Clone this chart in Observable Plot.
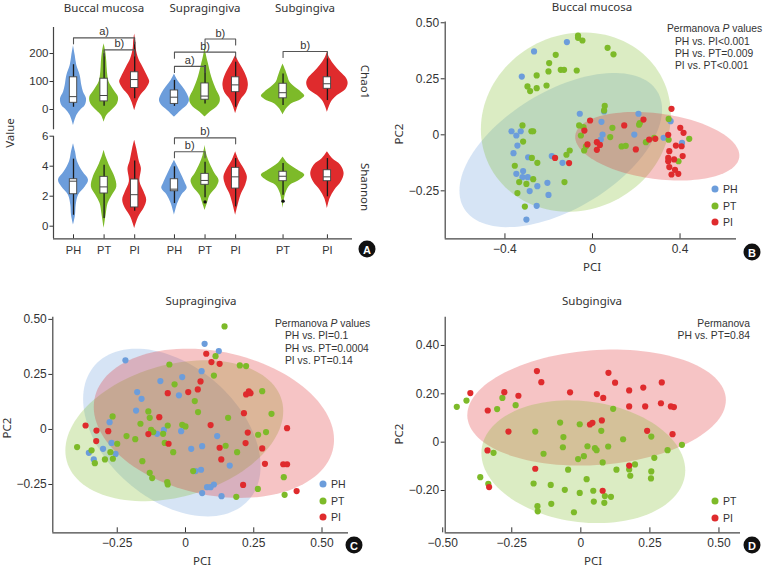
<!DOCTYPE html>
<html><head><meta charset="utf-8">
<script src="https://cdn.jsdelivr.net/npm/d3@7"></script>
<script src="https://cdn.jsdelivr.net/npm/@observablehq/plot@0.6"></script>
<style>
body{margin:0;background:#fff;}
#root{position:relative;width:764px;height:569px;overflow:hidden;font-family:"Liberation Sans",Arial,sans-serif;color:#333;background:#fff;}
.panel{position:absolute;}
.lbl{position:absolute;white-space:nowrap;line-height:1;color:#333;}
.nt{font-family:"Noto Sans",sans-serif;}
.badge{position:absolute;width:17px;height:17px;border-radius:50%;background:#111;color:#fff;font:bold 11px "Liberation Sans",Arial,sans-serif;display:flex;align-items:center;justify-content:center;transform:translate(-50%,-50%);}
.ldot{position:absolute;width:7px;height:7px;border-radius:50%;transform:translate(-50%,-50%);}
.violin g[aria-label="area"]{filter:blur(0.5px);}
</style></head>
<body><div id="root"></div>
<script>
// ---------------- data ----------------
const groups = ["PH", "PT", "PI"];
const groupColors = ["#6c9ddb", "#7dba29", "#df2b2d"];
const sites = ["Buccal mucosa", "Supragingiva", "Subgingiva"];

// Panel A: violin profiles [value, relative density]
const chao1Violins = [
  {site: "Buccal mucosa", group: "PH", profile: [[228,0],[193,1.7],[157,3.3],[121,6.7],[86,8.3],[62,10],[38,13],[14,11.7],[-4,6.7],[-21,3.3],[-57,0]]},
  {site: "Buccal mucosa", group: "PT", profile: [[235,0],[205,1.7],[170,2.7],[134,3.3],[98,5],[68,10],[44,14.3],[20,13.3],[-4,7.3],[-21,2.7],[-45,0]]},
  {site: "Buccal mucosa", group: "PI", profile: [[270,0],[245,1],[217,1.5],[181,4],[151,8.3],[115,13.3],[98,15],[74,11.7],[50,6],[26,2.7],[-4,0]]},
  {site: "Supragingiva", group: "PH", profile: [[127,0],[104,3.3],[80,8.3],[56,12.7],[32,15],[14,12.7],[-4,6.7],[-27,0]]},
  {site: "Supragingiva", group: "PT", profile: [[235,0],[200,1],[164,3.3],[115,6.7],[68,11.7],[44,15],[26,15],[8,11.7],[-10,5],[-27,0]]},
  {site: "Supragingiva", group: "PI", profile: [[193,0],[169,3.3],[145,7.3],[110,11.7],[86,12.7],[62,11],[38,6],[14,2.7],[-15,0]]},
  {site: "Subgingiva", group: "PT", profile: [[163,0],[139,2.7],[115,5],[98,6.7],[80,11.7],[62,18.3],[48,21.7],[36,18.3],[20,8.3],[2,3.3],[-19,0]]},
  {site: "Subgingiva", group: "PI", profile: [[205,0],[181,2.7],[157,7.3],[133,13.3],[110,19.3],[92,20.7],[71,18.3],[50,10],[32,5],[8,1.7],[-10,0]]}
];
const shannonViolins = [
  {site: "Buccal mucosa", group: "PH", profile: [[5.5,0],[4.96,2],[4.3,4],[3.63,9.3],[3.07,15],[2.62,11.7],[2.07,5],[1.4,2.7],[0.73,2],[0.07,0]]},
  {site: "Buccal mucosa", group: "PT", profile: [[5.07,0],[4.62,2],[3.96,6],[3.29,10.7],[2.62,12.7],[2.07,8.3],[1.51,4],[0.73,2],[-0.15,0]]},
  {site: "Buccal mucosa", group: "PI", profile: [[5.73,0],[5.18,2],[4.3,4.7],[3.85,6.7],[2.96,5.3],[2.29,9.3],[1.73,12],[1.18,9.3],[0.62,4],[-0.15,0]]},
  {site: "Supragingiva", group: "PH", profile: [[4.4,0],[3.96,3.3],[3.4,7.3],[2.85,11],[2.51,12.7],[2.07,7.3],[1.51,3.3],[0.73,0]]},
  {site: "Supragingiva", group: "PT", profile: [[5.38,0],[4.7,2],[4.16,5],[3.49,10],[3.05,14],[2.6,11.7],[2.05,5],[1.6,2.7],[1.05,0]]},
  {site: "Supragingiva", group: "PI", profile: [[4.96,0],[4.4,3.3],[3.85,8.3],[3.29,11.7],[2.73,10],[2.18,6],[1.62,3.3],[0.73,0]]},
  {site: "Subgingiva", group: "PT", profile: [[4.62,0],[4.18,5],[3.73,15],[3.4,21.7],[3.07,16.7],[2.73,7.3],[2.18,2.7],[1.18,0]]},
  {site: "Subgingiva", group: "PI", profile: [[4.96,0],[4.51,5],[4.07,13.3],[3.51,16.7],[2.96,14],[2.4,7.3],[1.85,2.7],[1.18,0]]}
];
// box plots: whisker low, q1, median, q3, whisker high, outliers
const chao1Boxes = [
  {site: "Buccal mucosa", group: "PH", lo: 8, q1: 24, med: 46, q3: 115, hi: 160, out: []},
  {site: "Buccal mucosa", group: "PT", lo: 12, q1: 29, med: 50, q3: 110, hi: 199, out: []},
  {site: "Buccal mucosa", group: "PI", lo: 38, q1: 77, med: 107, q3: 133, hi: 240, out: []},
  {site: "Supragingiva", group: "PH", lo: 11, q1: 20, med: 44, q3: 68, hi: 104, out: []},
  {site: "Supragingiva", group: "PT", lo: 20, q1: 35, med: 48, q3: 93, hi: 157, out: []},
  {site: "Supragingiva", group: "PI", lo: 8, q1: 62, med: 88, q3: 115, hi: 169, out: []},
  {site: "Subgingiva", group: "PT", lo: 14, q1: 40, med: 60, q3: 92, hi: 127, out: []},
  {site: "Subgingiva", group: "PI", lo: 32, q1: 74, med: 92, q3: 115, hi: 181, out: []}
];
const shannonBoxes = [
  {site: "Buccal mucosa", group: "PH", lo: 0.73, q1: 2.13, med: 3.0, q3: 3.13, hi: 4.47, out: []},
  {site: "Buccal mucosa", group: "PT", lo: 0.51, q1: 2.18, med: 2.62, q3: 3.29, hi: 4.07, out: []},
  {site: "Buccal mucosa", group: "PI", lo: 1.0, q1: 1.25, med: 2.1, q3: 3.11, hi: 4.35, out: []},
  {site: "Supragingiva", group: "PH", lo: 1.51, q1: 2.33, med: 2.47, q3: 3.13, hi: 3.96, out: []},
  {site: "Supragingiva", group: "PT", lo: 1.9, q1: 2.76, med: 3.05, q3: 3.49, hi: 4.27, out: [1.62]},
  {site: "Supragingiva", group: "PI", lo: 1.29, q1: 2.51, med: 3.29, q3: 3.89, hi: 4.51, out: []},
  {site: "Subgingiva", group: "PT", lo: 2.07, q1: 3.0, med: 3.33, q3: 3.63, hi: 4.18, out: [1.67]},
  {site: "Subgingiva", group: "PI", lo: 1.96, q1: 3.0, med: 3.29, q3: 3.73, hi: 4.51, out: []}
];
const chao1Brackets = [
  {site: "Buccal mucosa", from: "PH", to: "PI", level: 256, label: "a)"},
  {site: "Buccal mucosa", from: "PT", to: "PI", level: 213, label: "b)"},
  {site: "Supragingiva", from: "PT", to: "PI", level: 252, label: "b)"},
  {site: "Supragingiva", from: "PH", to: "PI", level: 205, label: "b)"},
  {site: "Supragingiva", from: "PH", to: "PT", level: 154, label: "a)"},
  {site: "Subgingiva", from: "PT", to: "PI", level: 207, label: "b)"}
];
const shannonBrackets = [
  {site: "Supragingiva", from: "PH", to: "PI", level: 5.89, label: "b)"},
  {site: "Supragingiva", from: "PH", to: "PT", level: 4.96, label: "b)"}
];
const chao1Ticks = [0, 100, 200];
const shannonTicks = [0, 2, 4, 6];

// Panel B: Buccal mucosa PCoA
const buccalPH = [[-0.267,0.372],[-0.117,0.414],[-0.323,0.260],[-0.058,0.094],[0.053,0.104],[0.041,0.058],[0.210,0.094],[0.357,0.061],[-0.370,0.016],[-0.328,0.016],[-0.348,-0.003],[-0.343,-0.048],[-0.361,-0.082],[-0.294,-0.100],[-0.186,-0.095],[-0.137,-0.125],[0.191,0.001],[0.046,0.001],[0.038,-0.021],[0.325,-0.013],[0.409,-0.036],[-0.317,-0.162],[-0.348,-0.174],[-0.320,-0.189],[-0.296,-0.189],[-0.287,-0.251],[-0.252,-0.229],[-0.206,-0.214],[-0.201,-0.268],[-0.255,-0.317],[-0.302,-0.378]];
const buccalPT = [[-0.066,0.443],[-0.066,0.433],[-0.046,0.421],[0.069,0.388],[0.096,0.359],[-0.168,0.357],[-0.198,0.320],[-0.201,0.283],[-0.145,0.290],[-0.130,0.290],[-0.072,0.287],[-0.297,0.216],[-0.255,0.265],[-0.255,0.208],[-0.285,0.195],[-0.210,0.220],[0.056,0.129],[0.053,0.109],[-0.061,0.042],[-0.041,0.034],[-0.053,-0.003],[-0.030,-0.052],[-0.038,-0.070],[-0.104,-0.070],[-0.119,-0.089],[0.091,0.031],[0.081,-0.010],[0.133,-0.052],[0.152,-0.049],[0.216,0.052],[0.213,0.045],[0.282,-0.013],[0.244,-0.033],[0.348,0.071],[0.348,-0.022],[0.442,-0.018],[0.393,-0.118],[-0.320,0.042],[-0.279,0.016],[-0.271,0.016],[-0.317,-0.030],[-0.355,-0.138],[-0.335,-0.211],[-0.302,-0.219],[-0.271,-0.198],[-0.277,-0.103],[-0.252,-0.125],[-0.343,-0.260],[-0.309,-0.320],[-0.128,-0.211]];
const buccalPI = [[0.361,0.116],[-0.011,0.064],[-0.037,0.019],[0.145,0.042],[0.233,0.068],[0.259,-0.021],[0.287,-0.018],[-0.023,-0.043],[0.020,-0.033],[0.034,-0.045],[0.020,-0.067],[-0.107,-0.126],[-0.171,-0.103],[0.198,-0.065],[0.401,0.031],[0.416,0.009],[0.381,-0.048],[0.407,-0.051],[0.351,-0.073],[0.346,-0.103],[0.373,-0.110],[0.346,-0.118],[0.377,-0.156],[0.412,-0.095],[0.351,-0.144],[0.361,-0.177],[0.392,-0.174],[0.346,0.000]];
const buccalEllipses = [
  {group: "PH", cx: -0.145, cy: -0.068, hx: 0.463, hy: 0.344, r: 0.527},
  {group: "PT", cx: -0.076, cy: 0.057, hx: 0.434, hy: 0.400, r: 0.08},
  {group: "PI", cx: 0.296, cy: -0.051, hx: 0.375, hy: 0.153, r: -0.27}
];
// Panel C: Supragingiva PCoA
const supraPH = [[0.070,0.389],[0.122,0.356],[-0.220,0.314],[0.059,0.265],[-0.092,0.220],[-0.012,0.238],[-0.177,0.170],[-0.161,0.139],[-0.024,0.155],[-0.181,0.086],[-0.278,0.033],[-0.079,-0.002],[-0.104,-0.020],[-0.016,-0.008],[0.116,-0.030],[0.061,-0.076],[0.021,-0.088],[-0.302,-0.088],[-0.271,-0.061],[-0.256,-0.111],[-0.354,-0.106],[-0.336,-0.136],[0.162,-0.164],[0.037,-0.189],[0.057,-0.183],[0.104,-0.250],[0.079,-0.262],[0.092,-0.262],[0.061,-0.289],[0.132,-0.303]];
const supraPT = [[0.143,0.468],[0.110,0.333],[-0.059,0.295],[0.199,0.291],[0.222,0.288],[0.104,0.245],[-0.040,0.205],[0.034,0.129],[0.046,0.079],[-0.136,0.082],[-0.131,0.053],[-0.165,0.026],[-0.267,0.059],[-0.126,-0.002],[-0.118,-0.012],[-0.065,0.018],[-0.082,-0.020],[-0.012,0.021],[0.000,0.014],[-0.216,-0.030],[-0.184,-0.044],[-0.250,-0.065],[-0.076,-0.061],[-0.045,-0.103],[-0.397,-0.080],[-0.344,-0.095],[-0.275,-0.103],[-0.266,-0.133],[-0.295,-0.136],[-0.332,-0.153],[-0.158,-0.144],[-0.131,-0.197],[-0.122,-0.221],[-0.067,-0.239],[-0.065,-0.250],[0.028,-0.189],[0.147,-0.074],[0.189,-0.103],[0.156,0.053],[0.266,-0.024],[0.281,0.174],[0.315,0.071],[0.295,-0.012],[0.360,-0.217],[0.363,-0.297],[0.265,-0.270],[0.186,-0.306]];
const supraPI = [[0.076,0.344],[0.095,0.306],[0.125,0.298],[0.055,0.218],[0.010,0.170],[0.045,0.182],[-0.065,0.165],[-0.096,0.056],[-0.136,-0.021],[-0.062,-0.065],[-0.366,0.018],[-0.326,-0.005],[-0.327,-0.053],[-0.283,-0.008],[0.092,0.020],[0.125,-0.083],[0.131,-0.136],[0.214,0.074],[0.222,0.159],[0.232,0.173],[0.238,0.165],[0.228,-0.014],[0.220,-0.062],[0.281,-0.086],[0.291,-0.156],[0.358,-0.158],[0.372,-0.158],[0.372,0.006],[0.211,-0.252],[0.407,-0.280]];
const supraEllipses = [
  {group: "PH", cx: -0.050, cy: -0.014, hx: 0.325, hy: 0.381, r: -0.40},
  {group: "PT", cx: -0.041, cy: -0.006, hx: 0.399, hy: 0.320, r: 0.28},
  {group: "PI", cx: 0.104, cy: 0.028, hx: 0.440, hy: 0.339, r: -0.22}
];
// Panel D: Subgingiva PCoA
const subPT = [[-0.449,0.146],[-0.414,0.172],[-0.284,0.183],[-0.303,0.137],[-0.236,0.153],[-0.075,0.081],[-0.004,0.074],[0.117,0.138],[-0.165,0.044],[-0.063,0.021],[0.074,0.047],[0.153,0.012],[0.255,0.023],[-0.065,-0.021],[-0.135,-0.048],[0.024,-0.017],[0.011,-0.058],[-0.010,-0.070],[0.051,-0.025],[0.057,-0.033],[0.099,-0.018],[-0.316,-0.044],[0.079,-0.084],[0.366,-0.011],[0.314,-0.033],[0.266,-0.065],[0.196,-0.092],[0.175,-0.113],[0.129,-0.114],[0.255,-0.121],[-0.046,-0.114],[0.254,-0.150],[0.179,-0.139],[-0.364,-0.145],[-0.335,-0.172],[-0.171,-0.171],[0.021,-0.153],[-0.109,-0.177],[-0.058,-0.197],[-0.004,-0.210],[0.045,-0.201],[0.087,-0.223],[0.109,-0.226],[0.047,-0.246],[0.085,-0.251],[-0.107,-0.255],[-0.157,-0.265],[-0.156,-0.286],[-0.025,-0.290]];
const subPI = [[-0.159,0.294],[-0.143,0.248],[0.100,0.287],[0.124,0.246],[0.293,0.247],[0.226,0.226],[0.175,0.214],[-0.400,0.203],[-0.277,0.207],[-0.226,0.192],[-0.039,0.206],[0.058,0.199],[0.081,0.183],[0.175,0.148],[0.233,0.148],[0.290,0.161],[0.326,0.148],[0.337,0.145],[-0.337,0.131],[-0.262,0.044],[0.033,0.073],[0.042,0.080],[0.076,0.090],[0.240,0.047],[0.332,0.033],[-0.338,-0.034],[-0.165,-0.110],[0.175,-0.097],[-0.332,-0.186],[0.079,-0.201]];
const subEllipses = [
  {group: "PI", cx: 0.057, cy: 0.143, hx: 0.468, hy: 0.240, r: 0.13},
  {group: "PT", cx: 0.009, cy: -0.081, hx: 0.369, hy: 0.254, r: -0.14}
];

// ---------------- helpers ----------------
const root = document.getElementById("root");
const colorOf = g => groupColors[groups.indexOf(g)];
const minus = s => s.replace("-", "\u2212");
function addPanel(svg, left, top, width) {
  const d = document.createElement("div");
  d.className = "panel";
  d.style.left = left + "px"; d.style.top = top + "px"; d.style.width = width + "px";
  d.appendChild(svg); root.appendChild(d); return d;
}
function addLabel(html, x, y, {size = 11, cls = "", align = "middle", rotate = 0} = {}) {
  const d = document.createElement("div");
  d.className = "lbl " + cls;
  d.innerHTML = html;
  d.style.left = x + "px"; d.style.top = y + "px"; d.style.fontSize = size + "px";
  const tx = align === "middle" ? "-50%" : align === "start" ? "0" : "-100%";
  d.style.transform = `translate(${tx},-50%)`;
  if (rotate) { d.style.transform = `translate(-50%,-50%) rotate(${rotate}deg)`; d.style.transformOrigin = "50% 50%"; }
  root.appendChild(d);
}
function addBadge(t, x, y) {
  const d = document.createElement("div"); d.className = "badge"; d.textContent = t;
  d.style.left = x + "px"; d.style.top = y + "px"; root.appendChild(d);
}
function addLegend(gs, x, y0, step) {
  gs.forEach((g, i) => {
    const dot = document.createElement("div"); dot.className = "ldot";
    dot.style.left = x + "px"; dot.style.top = (y0 + i * step) + "px"; dot.style.background = colorOf(g);
    root.appendChild(dot);
    addLabel(g, x + 8, y0 + i * step, {size: 10.5, align: "start"});
  });
}

// ---------------- Panel A ----------------
const slotX = {"Buccal mucosa": {PH: 0, PT: 1, PI: 2}, "Supragingiva": {PH: 3.3, PT: 4.3, PI: 5.3}, "Subgingiva": {PT: 6.85, PI: 8.3}};
const sx = (s, g) => slotX[s][g];
const xSlots = sites.flatMap(s => Object.entries(slotX[s]).map(([g, x]) => ({g, x})));
const xDomainA = [-0.654, 9.12];
const pxPerX = (352 - 53) / (xDomainA[1] - xDomainA[0]);

function violinPlot({violins, boxes, brackets, ticks, yDomain, height, marginTop, marginBottom, showX}) {
  const upp = (yDomain[1] - yDomain[0]) / (height - marginTop - marginBottom);
  const dk = 1 / pxPerX;
  const rows = violins.flatMap(v => v.profile.map(([val, d]) => ({key: v.site + v.group, group: v.group, v: val,
    x1: sx(v.site, v.group) - d * dk, x2: sx(v.site, v.group) + d * dk})));
  const bw = 3.7 * dk;
  const bRows = brackets.flatMap((b, i) => {
    const a = sx(b.site, b.from), c = sx(b.site, b.to), L = b.level, e = L - 6 * upp;
    return [{i, x: a, y: e}, {i, x: a, y: L}, {i, x: c, y: L}, {i, x: c, y: e}];
  });
  const outs = boxes.flatMap(b => b.out.map(o => ({x: sx(b.site, b.group), y: o})));
  const marks = [
    Plot.ruleX([xDomainA[0]], {stroke: "#444", strokeWidth: 1.2}),
    Plot.axisY({ticks, tickFormat: d => String(d), tickSize: 3.5, tickPadding: 1.5, fontSize: 11.5, label: null}),
    Plot.areaX(rows, {y: "v", x1: "x1", x2: "x2", z: "key", fill: "group", curve: "catmull-rom"}),
    Plot.ruleX(boxes, {x: d => sx(d.site, d.group), y1: "lo", y2: "hi", stroke: "#1a1a1a", strokeWidth: 1.3}),
    Plot.rect(boxes, {x1: d => sx(d.site, d.group) - bw, x2: d => sx(d.site, d.group) + bw, y1: "q1", y2: "q3", fill: "white", stroke: "#444", strokeWidth: 0.9}),
    Plot.ruleY(boxes, {y: "med", x1: d => sx(d.site, d.group) - bw, x2: d => sx(d.site, d.group) + bw, stroke: "#444", strokeWidth: 1}),
    Plot.dot(outs, {x: "x", y: "y", r: 1.7, fill: "#111"}),
    Plot.line(bRows, {x: "x", y: "y", z: "i", stroke: "#555", strokeWidth: 1.1}),
    Plot.text(brackets, {x: d => (sx(d.site, d.from) + sx(d.site, d.to)) / 2, y: "level", text: "label", dy: -6, fontSize: 11, fill: "#333"})
  ];
  if (showX) {
    const lab = new Map(xSlots.map(t => [t.x, t.g]));
    marks.push(Plot.ruleY([yDomain[0]], {stroke: "#444", strokeWidth: 1.2}));
    marks.push(Plot.axisX({ticks: xSlots.map(t => t.x), tickFormat: x => lab.get(x), tickSize: -4, tickPadding: 11, fontSize: 11, label: null}));
  }
  return Plot.plot({
    width: 382, height, marginLeft: 53, marginRight: 30, marginTop, marginBottom,
    x: {domain: xDomainA, axis: null},
    y: {domain: yDomain, axis: null},
    color: {domain: groups, range: groupColors},
    style: {background: "transparent", overflow: "visible", fontFamily: "Liberation Sans, Arial, sans-serif", color: "#333"},
    marks
  });
}
const pA1 = addPanel(violinPlot({violins: chao1Violins, boxes: chao1Boxes, brackets: chao1Brackets, ticks: chao1Ticks,
  yDomain: [-72.5, 293], height: 130, marginTop: 27, marginBottom: 0.7, showX: false}), 0, 0, 382);
pA1.classList.add("violin");
const pA2 = addPanel(violinPlot({violins: shannonViolins, boxes: shannonBoxes, brackets: shannonBrackets, ticks: shannonTicks,
  yDomain: [-0.84, 6.0], height: 148, marginTop: 23.7, marginBottom: 21.7, showX: true}), 0, 112, 382);
pA2.classList.add("violin");

// ---------------- Panels B-D ----------------
function ellipseRows(e) {
  const s = Math.sqrt(1 - e.r * e.r), out = [];
  for (let k = 0; k < 120; k++) {
    const t = 2 * Math.PI * k / 120;
    out.push({x: e.cx + e.hx * Math.cos(t), y: e.cy + e.hy * (e.r * Math.cos(t) + s * Math.sin(t))});
  }
  return out;
}
function fmt(dec) { return v => v === 0 ? "0" : minus(v.toFixed(dec)); }
function scatterPlot({series, ellipses, xDomain, yDomain, xTicks, yTicks, xDec, yDec, width, height, mL, mR, mT, mB}) {
  const pts = series.flatMap(([g, arr]) => arr.map(([x, y]) => ({g, x, y})));
  const marks = [
    ...ellipses.map(e => Plot.line(ellipseRows(e), {x: "x", y: "y", fill: colorOf(e.group), fillOpacity: 0.28, stroke: "none", curve: "linear-closed"})),
    Plot.ruleX([xDomain[0]], {stroke: "#444", strokeWidth: 1.2}),
    Plot.ruleY([yDomain[0]], {stroke: "#444", strokeWidth: 1.2}),
    Plot.axisY({ticks: yTicks, tickFormat: fmt(yDec), tickSize: 4, tickPadding: 2, fontSize: 12, label: null}),
    Plot.axisX({ticks: xTicks, tickFormat: fmt(xDec), tickSize: -5, tickPadding: 10.5, fontSize: 12, label: null}),
    Plot.dot(pts, {x: "x", y: "y", fill: "g", r: 3.1})
  ];
  return Plot.plot({
    width, height, marginLeft: mL, marginRight: mR, marginTop: mT, marginBottom: mB,
    x: {domain: xDomain, axis: null}, y: {domain: yDomain, axis: null},
    color: {domain: groups, range: groupColors},
    style: {background: "transparent", overflow: "visible", fontFamily: "Liberation Sans, Arial, sans-serif", color: "#333"},
    marks
  });
}
addPanel(scatterPlot({series: [["PH", buccalPH], ["PT", buccalPT], ["PI", buccalPI]], ellipses: buccalEllipses,
  xDomain: [-0.673, 0.658], yDomain: [-0.464, 0.503], xTicks: [-0.4, 0, 0.4], yTicks: [-0.25, 0, 0.25, 0.5], xDec: 1, yDec: 2,
  width: 382, height: 280, mL: 62.7, mR: 28, mT: 21.6, mB: 41.7}), 382, 0, 382);
addPanel(scatterPlot({series: [["PH", supraPH], ["PT", supraPT], ["PI", supraPI]], ellipses: supraEllipses,
  xDomain: [-0.486, 0.597], yDomain: [-0.4695, 0.510], xTicks: [-0.25, 0, 0.25, 0.5], yTicks: [-0.25, 0, 0.25, 0.5], xDec: 2, yDec: 2,
  width: 382, height: 289, mL: 52.3, mR: 34, mT: 36.7, mB: 36.7}), 0, 280, 382);
addPanel(scatterPlot({series: [["PT", subPT], ["PI", subPI]], ellipses: subEllipses,
  xDomain: [-0.491, 0.578], yDomain: [-0.375, 0.517], xTicks: [-0.5, -0.25, 0, 0.25, 0.5], yTicks: [-0.2, 0, 0.2, 0.4], xDec: 2, yDec: 2,
  width: 382, height: 289, mL: 62.7, mR: 24, mT: 36.7, mB: 36.7}), 382, 280, 382);

// ---------------- Text ----------------
addLabel("Buccal mucosa", 104, 8, {size: 11.5, cls: "nt"});
addLabel("Supragingiva", 205, 8, {size: 11.5, cls: "nt"});
addLabel("Subgingiva", 305, 8, {size: 11.5, cls: "nt"});
addLabel("Value", 10, 133, {size: 11.5, cls: "nt", rotate: -90});
addLabel("Chao1", 365, 82, {size: 11.5, cls: "nt", rotate: 90});
addLabel("Shannon", 365, 187, {size: 11.5, cls: "nt", rotate: 90});
addBadge("A", 367, 249);

addLabel("Buccal mucosa", 592, 7, {size: 11.5, cls: "nt"});
addLabel("PC2", 399, 134, {size: 11.5, cls: "nt", rotate: -90});
addLabel("PCI", 592, 267, {size: 11.5, cls: "nt"});
addLabel("Permanova <i>P</i> values", 667, 29, {size: 10.3, align: "start"});
addLabel("PH vs. PI&lt;0.001", 675, 41.5, {size: 10.3, align: "start"});
addLabel("PH vs. PT=0.009", 675, 53.8, {size: 10.3, align: "start"});
addLabel("PI vs. PT&lt;0.001", 675, 66, {size: 10.3, align: "start"});
addLegend(["PH", "PT", "PI"], 715, 189, 16.5);
addBadge("B", 752, 252);

addLabel("Supragingiva", 201, 301, {size: 11.5, cls: "nt"});
addLabel("PC2", 7, 428, {size: 11.5, cls: "nt", rotate: -90});
addLabel("PCI", 202, 561, {size: 11.5, cls: "nt"});
addLabel("Permanova <i>P</i> values", 275, 323.5, {size: 10.3, align: "start"});
addLabel("PH vs. PI=0.1", 285, 336, {size: 10.3, align: "start"});
addLabel("PH vs. PT=0.0004", 285, 348.5, {size: 10.3, align: "start"});
addLabel("PI vs. PT=0.14", 285, 361, {size: 10.3, align: "start"});
addLegend(["PH", "PT", "PI"], 323, 484, 16.5);
addBadge("C", 354, 545);

addLabel("Subgingiva", 592, 301, {size: 11.5, cls: "nt"});
addLabel("PC2", 399, 434, {size: 11.5, cls: "nt", rotate: -90});
addLabel("PCI", 593, 561, {size: 11.5, cls: "nt"});
addLabel("Permanova", 750, 323.5, {size: 10.3, align: "end"});
addLabel("PH vs. PT=0.84", 750, 336, {size: 10.3, align: "end"});
addLegend(["PT", "PI"], 715, 501, 16.5);
addBadge("D", 752, 545);
</script>
</body></html>
